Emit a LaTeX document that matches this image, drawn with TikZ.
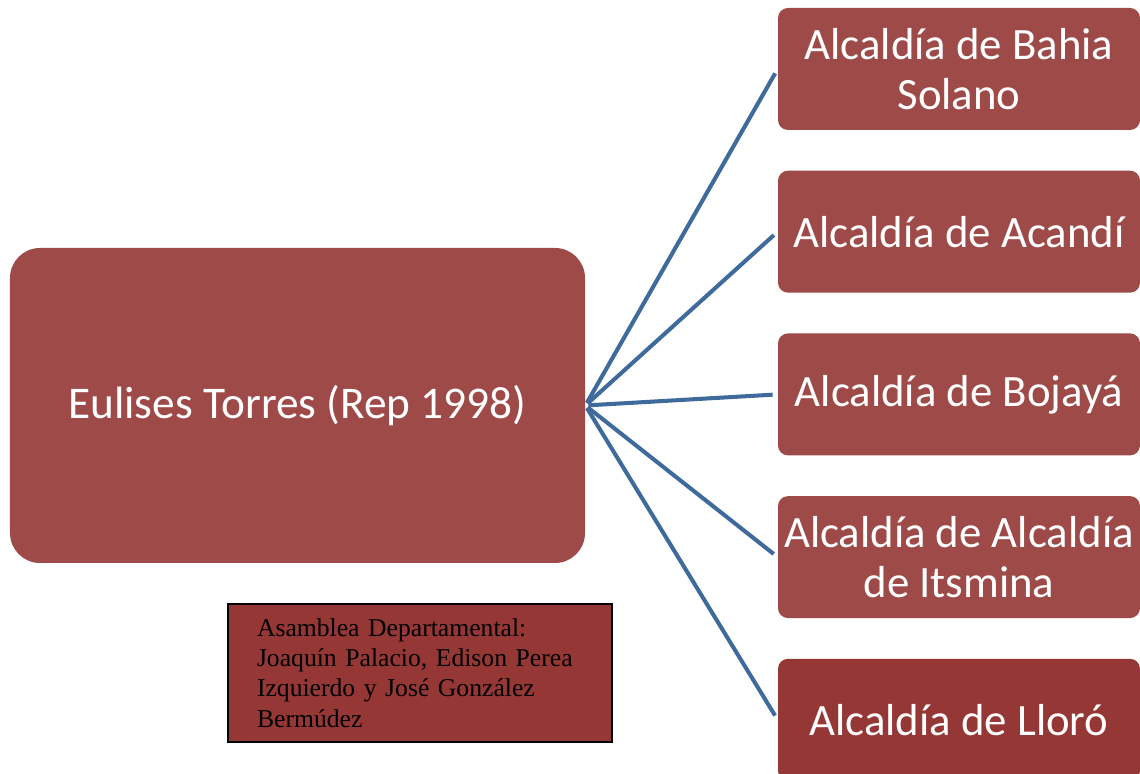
\documentclass[tikz,border=0pt]{standalone}
\usepackage{fontspec}
\setmainfont{Liberation Serif}
\newfontfamily\calibrifont{Carlito}
\usetikzlibrary{positioning}

\definecolor{boxred}{HTML}{9E4A48}
\definecolor{darkred}{HTML}{953735}
\definecolor{linkblue}{HTML}{3E6A9C}

\begin{document}
\begin{tikzpicture}[
node distance=0.8cm,
mainbox/.style={fill=boxred, rounded corners=0.6cm, align=center, text=white, minimum width=11.5cm, minimum height=6.3cm, font=\calibrifont\fontsize{25.8}{28.5}\selectfont},
townbox/.style={fill=boxred, rounded corners=0.2cm, align=center, text=white, minimum width=7.24cm, minimum height=2.44cm, inner xsep=0pt, font=\calibrifont\fontsize{25.5}{28.5}\selectfont},
notebox/.style={draw=black, line width=0.9pt, fill=darkred, align=left, text width=6.52cm, minimum width=7.68cm, minimum height=2.76cm, inner xsep=0.58cm, font=\fontsize{14.6}{17.3}\selectfont},
link/.style={linkblue, line width=2.3pt, shorten <=0.06cm, shorten >=0.1cm}
]
\useasboundingbox (0,0) rectangle (22.8,15.48);

\node[mainbox] (eulises) at (5.95,7.37) {Eulises Torres (Rep 1998)};

\node[townbox] (bahia) at (19.18,14.1) {Alcaldía de Bahia\\Solano};
\node[townbox, below=of bahia] (acandi) {Alcaldía de Acandí};
\node[townbox, below=of acandi] (bojaya) {Alcaldía de Bojayá};
\node[townbox, below=of bojaya] (itsmina) {Alcaldía de Alcaldía\\de Itsmina};
\node[townbox, below=of itsmina, fill=darkred] (lloro) {Alcaldía de Lloró};

\node[notebox] (asamblea) at (8.4,2.02) {Asamblea Departamental:\\Joaquín Palacio, Edison Perea\\Izquierdo y José González\\Bermúdez};

\foreach \town in {bahia,acandi,bojaya,itsmina,lloro}
  \draw[link] (eulises.east) -- (\town.west);

\end{tikzpicture}
\end{document}
